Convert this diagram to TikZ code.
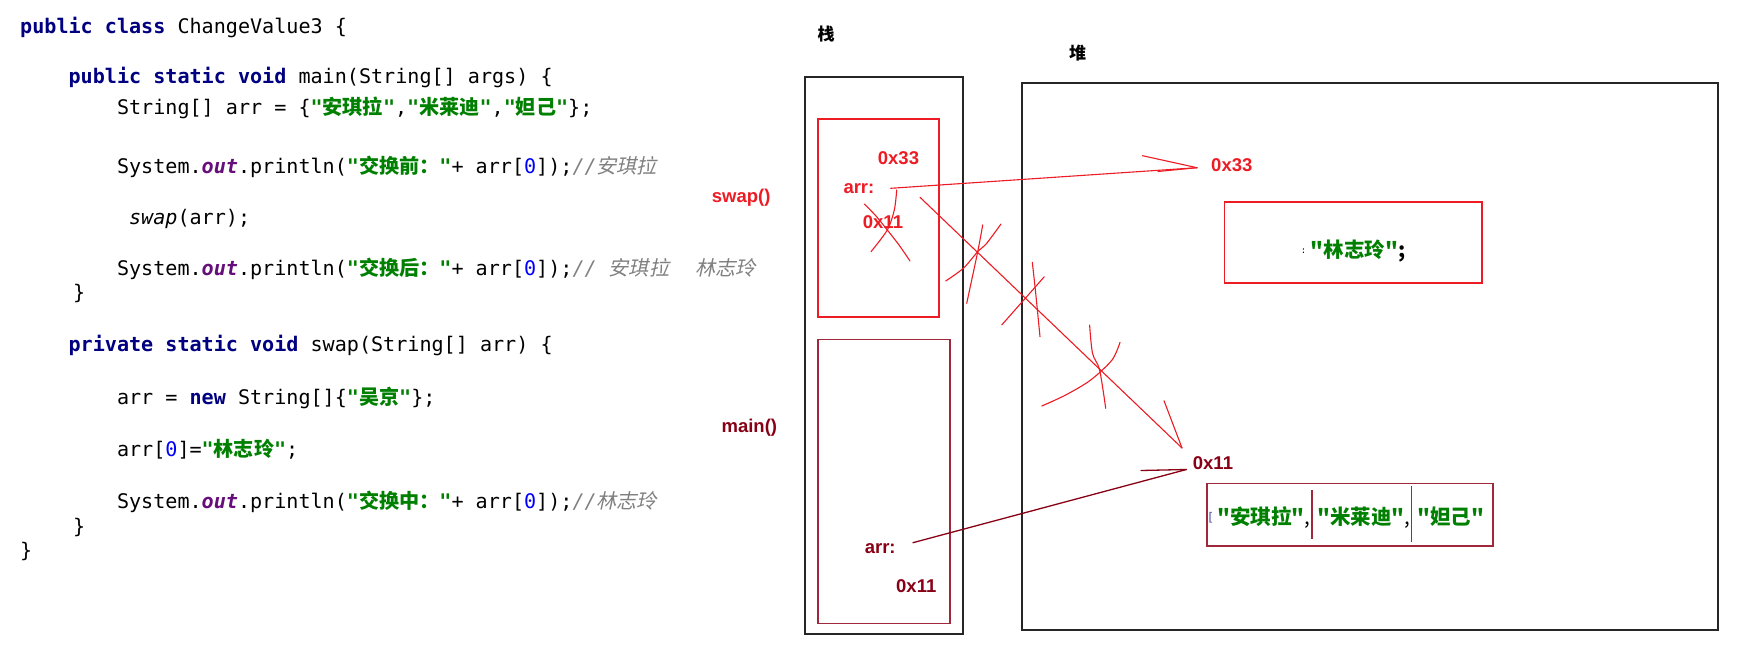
\documentclass[tikz,border=0pt]{standalone}
\usepackage{fontspec}
\newfontfamily\codefont{DejaVu Sans Mono}
\newfontfamily\cjk{Noto Sans CJK SC}
\newfontfamily\cjkit{Noto Sans CJK SC}[FakeSlant=0.22]
\newfontfamily\lab{Liberation Sans}
\definecolor{redc}{RGB}{237,28,36}
\definecolor{darkredc}{RGB}{136,0,21}
\definecolor{framec}{RGB}{160,40,60}
\definecolor{kwc}{RGB}{0,0,128}
\definecolor{strc}{RGB}{0,128,0}
\definecolor{numc}{RGB}{0,0,255}
\definecolor{fldc}{RGB}{102,14,122}
\definecolor{cmtc}{RGB}{128,128,128}
\newcommand\qq{\char34\relax}
\newcommand\jkw[1]{{\color{kwc}\bfseries #1}}
\newcommand\zh[1]{{\cjk #1}}
\newcommand\zhi[1]{{\cjkit\upshape #1}}
\newcommand\jstr[1]{{\color{strc}\bfseries\qq\zh{#1}\qq}}
\newcommand\jnum[1]{{\color{numc}#1}}
\newcommand\jfld[1]{{\color{fldc}\bfseries\itshape #1}}
\newcommand\jcm[1]{{\color{cmtc}\itshape //#1}}
\newcommand\hcomma{{\mdseries\color{black},}}
\tikzset{
  code/.style={anchor=base west, inner sep=0pt, font=\codefont\fontsize{20.1pt}{24pt}\selectfont},
  blackbox/.style={draw=black!85, line width=1.6pt, inner sep=0pt, outer sep=0pt, anchor=north west},
  redbox/.style={draw=redc, line width=1.6pt, inner sep=0pt, outer sep=0pt, anchor=north west},
  darkbox/.style={draw=framec, line width=1.6pt, inner sep=0pt, outer sep=0pt, anchor=north west},
  lbl/.style={anchor=base west, inner sep=0pt, font=\lab\bfseries\fontsize{18.5pt}{20pt}\selectfont},
  zhlbl/.style={anchor=base west, inner sep=0pt, font=\cjk\bfseries\fontsize{17pt}{20pt}\selectfont},
  heaptxt/.style={anchor=base, inner sep=0pt, font=\cjk\bfseries\fontsize{20.5pt}{24pt}\selectfont},
  redline/.style={draw=redc, line width=1.1pt, line cap=round, line join=round},
  darkline/.style={draw=darkredc, line width=1.3pt, line cap=round, line join=round},
  scrib/.style={draw=redc, line width=1.1pt, line cap=round, line join=round}
}
\begin{document}
\begin{tikzpicture}[x=1pt,y=-1pt]
\fill[white] (0,0) rectangle (1739,652);
\useasboundingbox (0,0) rectangle (1739,652);

% ---- code ----
\node[code] (l1) at (20,33.3) {\jkw{public class} ChangeValue3 \{};
\node[code] (l2) at (68.4,83.3) {\jkw{public static void} main(String[] args) \{};
\node[code] (l3) at (116.8,115) {String[] arr = \{\jstr{安琪拉},\jstr{米莱迪},\jstr{妲己}\};};
\node[code] (l4) at (116.8,173.3) {System.\jfld{out}.println(\jstr{交换前：}+ arr[\jnum{0}]);\jcm{\zhi{安琪拉}}};
\node[code] (l5) at (128.9,225) {\textit{swap}(arr);};
\node[code] (l6) at (116.8,276) {System.\jfld{out}.println(\jstr{交换后：}+ arr[\jnum{0}]);\jcm{\ \zhi{安琪拉}\hspace{26pt}\zhi{林志玲}}};
\node[code] (l7) at (73,299) {\}};
\node[code] (l8) at (68.4,351.7) {\jkw{private static void} swap(String[] arr) \{};
\node[code] (l9) at (116.8,404) {arr = \jkw{new} String[]\{\jstr{吴京}\};};
\node[code] (l10) at (116.8,456.7) {arr[\jnum{0}]=\jstr{林志玲};};
\node[code] (l11) at (116.8,508.3) {System.\jfld{out}.println(\jstr{交换中：}+ arr[\jnum{0}]);\jcm{\zhi{林志玲}}};
\node[code] (l12) at (73,533) {\}};
\node[code] (l13) at (20,557) {\}};

% ---- frame labels ----
\node[lbl, text=redc] (swaplbl) at (711.7,202.7) {swap()};
\node[lbl, text=darkredc] (mainlbl) at (721.4,432) {main()};
\node[zhlbl] (zhan) at (817.5,40.5) {栈};
\node[zhlbl] (dui) at (1069,59.5) {堆};

% ---- boxes ----
\node[blackbox, minimum width=158pt, minimum height=557pt] (stack) at (805,77) {};
\node[blackbox, minimum width=696.3pt, minimum height=547pt] (heap) at (1021.7,83) {};
\node[redbox, minimum width=121pt, minimum height=197.7pt] (swapf) at (818,119) {};
\node[darkbox, minimum width=132pt, minimum height=283.8pt] (mainf) at (818,339.5) {};
\node[redbox, minimum width=257.4pt, minimum height=80.7pt] (linbox) at (1224.6,202) {};
\node[darkbox, minimum width=286pt, minimum height=62.7pt] (arrbox) at (1206.7,483.3) {};
\draw[framec, line width=1.4pt] (1312,490) -- (1312,539.3);
\draw[framec, line width=1.4pt] (1411.7,486) -- (1411.7,542.3);

% ---- stack labels ----
\node[lbl, text=redc] (s33) at (877.7,165) {0x33};
\node[lbl, text=redc] (sarr) at (843.3,193.3) {arr:};
\node[lbl, text=redc] (s11) at (862.7,228.3) {0x11};
\node[lbl, text=darkredc] (marr) at (864.6,553.3) {arr:};
\node[lbl, text=darkredc] (m11) at (896,592.7) {0x11};

% ---- heap labels ----
\node[lbl, text=redc] (h33) at (1211,171.7) {0x33};
\node[lbl, text=darkredc] (h11) at (1192.7,469) {0x11};
\node[anchor=base, inner sep=0pt, text=kwc, font=\codefont\fontsize{9pt}{10pt}\selectfont] (linfrag) at (1303.5,254) {:};
\node[heaptxt] (lintxt) at (1358,258) {{\color{strc}\qq{}林志玲\qq{}};};
\node[anchor=base, inner sep=0pt, text=kwc!70, font=\codefont\fontsize{12pt}{14pt}\selectfont] (arrfrag) at (1210.5,521) {[};
\node[heaptxt] (e1) at (1264,524) {{\color{strc}\qq{}安琪拉\qq{}}\hcomma};
\node[heaptxt] (e2) at (1363.7,524) {{\color{strc}\qq{}米莱迪\qq{}}\hcomma};
\node[heaptxt] (e3) at (1450.8,524) {{\color{strc}\qq{}妲己\qq{}}};

% ---- arrows ----
\coordinate (a1s) at (890.7,188.3);
\coordinate (a1t) at (1197,167.7);
\coordinate (a1b) at (1142.5,155.7);
\coordinate (a1c) at (1158,171.5);
\draw[redline] (a1s) -- (a1t);
\draw[redline] (a1b) -- (a1t);
\draw[redline] (a1c) -- (a1t);

\coordinate (a2s) at (920,197.3);
\coordinate (a2t) at (1182,448);
\coordinate (a2b) at (1164,400.7);
\draw[redline] (a2s) -- (a2t);
\draw[redline] (a2b) -- (a2t);

\coordinate (a3s) at (912.9,542.7);
\coordinate (a3t) at (1186.4,469.5);
\coordinate (a3b) at (1141,470.5);
\draw[darkline] (a3s) -- (a3t);
\draw[darkline] (a3b) -- (a3t);

% ---- scribbles (crossing out) ----
\draw[scrib] plot[smooth] coordinates {(896.7,190) (894.3,210) (887.3,230) (871,251.7)};
\draw[scrib] plot[smooth] coordinates {(864.3,204) (876,216) (887.3,230) (899,245) (910,261)};
\draw[scrib] plot[smooth] coordinates {(982.7,225) (977.7,251.7) (966.7,303.3)};
\draw[scrib] plot[smooth] coordinates {(1001,224) (986.7,243.3) (977.7,251.7) (963.3,268.3) (945.7,281)};
\draw[scrib] plot[smooth] coordinates {(1032.3,262.3) (1035.7,293.3) (1040,336.7)};
\draw[scrib] plot[smooth] coordinates {(1044.3,276.7) (1026.7,296.7) (1001.7,325)};
\draw[scrib] plot[smooth] coordinates {(1089.6,325) (1092.5,353.3) (1099.6,370) (1105.7,408.3)};
\draw[scrib] plot[smooth] coordinates {(1120,342.3) (1112,360) (1090.7,380) (1065.7,395) (1041.8,406)};
\end{tikzpicture}
\end{document}
